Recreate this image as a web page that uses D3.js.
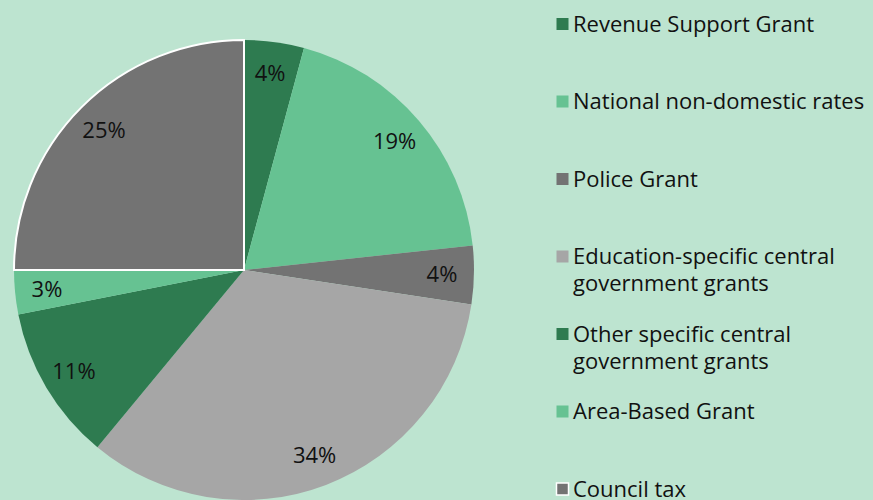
<!DOCTYPE html>
<html lang="en">
<head>
  <meta charset="UTF-8">
  <title>Sources of council income</title>
  <script src="https://d3js.org/d3.v7.min.js"></script>
</head>
<body style="margin: 0; background: #bde4d0; font-family: 'Open Sans', sans-serif;">
<svg id="chart" width="873" height="500"></svg>
<script>
  // data
  const categories = [
    "Revenue Support Grant",
    "National non-domestic rates",
    "Police Grant",
    "Education-specific central government grants",
    "Other specific central government grants",
    "Area-Based Grant",
    "Council tax"
  ];
  const shares = [4.2, 19.1, 4.1, 33.6, 10.9, 3.1, 25.0];
  const legendLines = [
    ["Revenue Support Grant"],
    ["National non-domestic rates"],
    ["Police Grant"],
    ["Education-specific central", "government grants"],
    ["Other specific central", "government grants"],
    ["Area-Based Grant"],
    ["Council tax"]
  ];
  const colours = ["#2e7b50", "#66c292", "#737373", "#a6a6a6", "#2e7b50", "#66c292", "#737373"];
  const highlighted = "Council tax";

  const svg = d3.select("#chart");
  const cx = 244, cy = 270, radius = 230;

  const data = categories.map((c, i) => ({ name: c, value: shares[i], colour: colours[i], lines: legendLines[i] }));

  const pie = d3.pie().sort(null).value(d => d.value);
  const arc = d3.arc().innerRadius(0).outerRadius(radius);
  const labelArc = d3.arc().innerRadius(198).outerRadius(198);

  const g = svg.append("g").attr("transform", `translate(${cx},${cy})`);
  const arcs = pie(data);

  g.selectAll("path.slice")
    .data(arcs)
    .enter().append("path")
    .attr("class", "slice")
    .attr("d", arc)
    .attr("fill", d => d.data.colour);

  // outline of the selected slice drawn on top
  g.selectAll("path.outline")
    .data(arcs.filter(d => d.data.name === highlighted))
    .enter().append("path")
    .attr("class", "outline")
    .attr("d", arc)
    .attr("fill", "none")
    .attr("stroke", "#fff")
    .attr("stroke-width", 2);

  g.selectAll("text.pct")
    .data(arcs)
    .enter().append("text")
    .attr("class", "pct")
    .attr("transform", d => `translate(${labelArc.centroid(d)})`)
    .attr("text-anchor", "middle")
    .attr("dy", "0.35em")
    .style("font-size", "22px")
    .style("fill", "#111")
    .text(d => Math.round(d.data.value) + "%");

  // legend
  const legend = svg.append("g").attr("transform", "translate(556,0)");
  const rowY = d3.scalePoint().domain(categories).range([24, 489]);

  const item = legend.selectAll("g.item")
    .data(data)
    .enter().append("g")
    .attr("class", "item")
    .attr("transform", d => `translate(0,${rowY(d.name)})`);

  item.append("rect")
    .attr("x", 0.5)
    .attr("y", -6)
    .attr("width", 12)
    .attr("height", 12)
    .attr("fill", d => d.colour)
    .attr("stroke", d => d.name === highlighted ? "#fff" : "none")
    .attr("stroke-width", 1.5);

  item.append("text")
    .attr("x", 17)
    .style("font-size", "22px")
    .style("fill", "#111")
    .selectAll("tspan")
    .data(d => d.lines)
    .enter().append("tspan")
    .attr("x", 17)
    .attr("y", (d, i) => i * 27)
    .attr("dy", "0.35em")
    .text(d => d);
</script>
</body>
</html>
